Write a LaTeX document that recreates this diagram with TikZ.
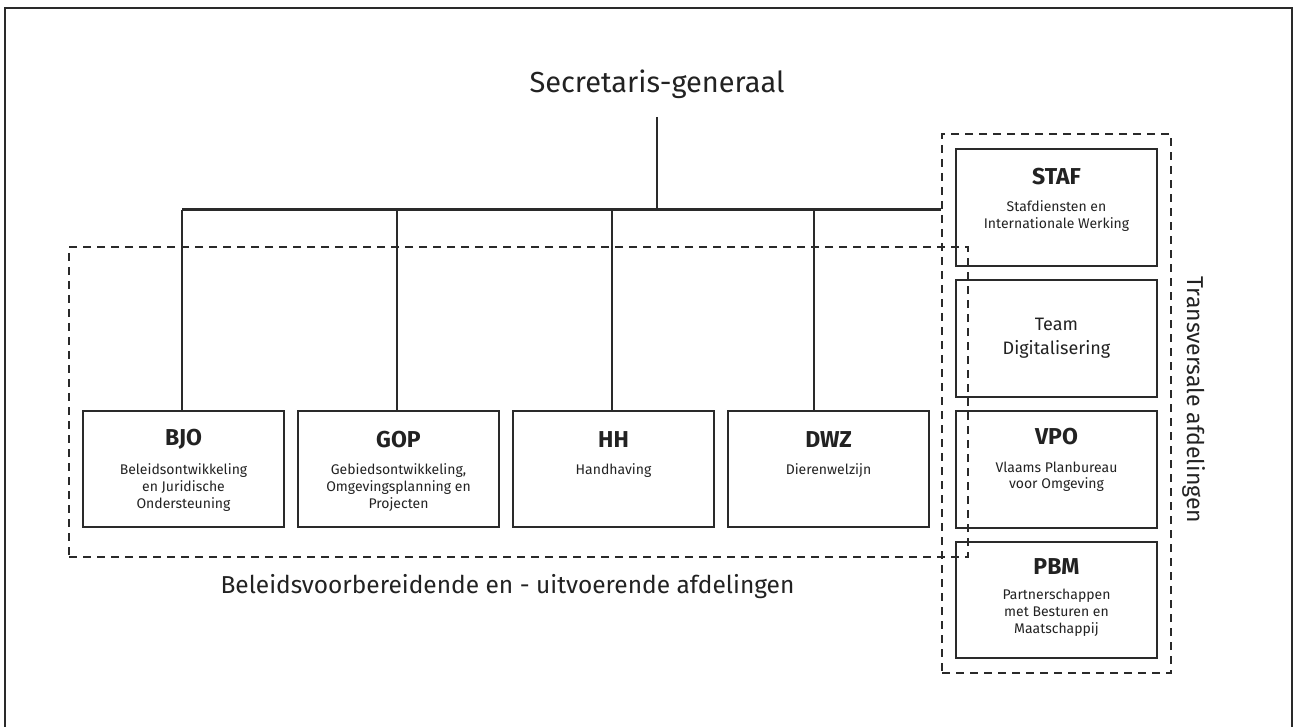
\documentclass[tikz,border=0pt]{standalone}
\usepackage{fontspec}
\setmainfont{Fira Sans}
\definecolor{ink}{HTML}{222222}
\definecolor{linec}{HTML}{2A2A2A}
\begin{document}
\begin{tikzpicture}[x=1pt,y=-1pt,
  box/.style={draw=linec, line width=1.4pt, minimum width=201pt, minimum height=116pt, inner sep=0pt},
  grp/.style={draw=linec, line width=1.4pt, dash pattern=on 8pt off 6pt, inner sep=0pt},
  abbr/.style={font=\fontsize{23}{26}\selectfont\bfseries, text=ink, inner sep=0pt},
  sub/.style={font=\fontsize{14}{16.8}\selectfont, align=center, text=ink, anchor=north, inner sep=0pt},
  big/.style={text=ink, inner sep=0pt},
  conn/.style={line width=1.3pt, draw=linec}]
\useasboundingbox (0,0) rectangle (1293,727);
\draw[line width=2pt, draw=linec] (5,730) -- (5,8) -- (1292,8) -- (1292,730);

% groups
\node[grp, minimum width=899pt, minimum height=310pt] (grpL) at (518.5,402) {};
\node[grp, minimum width=229pt, minimum height=539pt] (grpT) at (1056.5,403.5) {};

% title
\node[big, anchor=base, font=\fontsize{29}{32}\selectfont] (sg) at (657,93) {Secretaris-generaal};

% boxes
\node[box] (bjo) at (183.5,469) {};
\node[box] (gop) at (398.5,469) {};
\node[box] (hh)  at (613.5,469) {};
\node[box] (dwz) at (828.5,469) {};
\node[box, minimum height=117pt] (staf) at (1056.5,207.5) {};
\node[box, minimum height=117pt] (team) at (1056.5,338.5) {};
\node[box, minimum height=117pt] (vpo)  at (1056.5,469.5) {};
\node[box, minimum height=116pt] (pbm)  at (1056.5,600) {};

% connectors
\coordinate (sgb) at (657,117);
\coordinate (barL) at (182,210);
\coordinate (d2) at (397,210);
\coordinate (d3) at (612,210);
\coordinate (d4) at (814,210);
\draw[conn] (sgb) -- (sgb |- barL);
\draw[line width=3pt, draw=linec] (barL) -- (barL -| grpT.west);
\draw[conn] (barL) -- (barL |- bjo.north);
\draw[conn] (d2) -- (d2 |- gop.north);
\draw[conn] (d3) -- (d3 |- hh.north);
\draw[conn] (d4) -- (d4 |- dwz.north);

% box texts
\node[abbr] (bjoT) at ([yshift=-29pt]bjo.north) {BJO};
\node[sub] (bjoS) at ([yshift=-53pt]bjo.north) {Beleidsontwikkeling\\en Juridische\\Ondersteuning};
\node[abbr] (gopT) at ([yshift=-29pt]gop.north) {GOP};
\node[sub] (gopS) at ([yshift=-53pt]gop.north) {Gebiedsontwikkeling,\\Omgevingsplanning en\\Projecten};
\node[abbr] (hhT) at ([yshift=-29pt]hh.north) {HH};
\node[sub] (hhS) at ([yshift=-53pt]hh.north) {Handhaving};
\node[abbr] (dwzT) at ([yshift=-29pt]dwz.north) {DWZ};
\node[sub] (dwzS) at ([yshift=-53pt]dwz.north) {Dierenwelzijn};

\node[abbr] (stafT) at ([yshift=-28pt]staf.north) {STAF};
\node[sub] (stafS) at ([yshift=-52pt]staf.north) {Stafdiensten en\\Internationale Werking};
\node[big, align=center, font=\fontsize{18}{24}\selectfont] (teamT) at (team.center) {Team\\Digitalisering};
\node[abbr] (vpoT) at ([yshift=-26pt]vpo.north) {VPO};
\node[sub] (vpoS) at ([yshift=-51pt]vpo.north) {Vlaams Planbureau\\voor Omgeving};
\node[abbr] (pbmT) at ([yshift=-25pt]pbm.north) {PBM};
\node[sub] (pbmS) at ([yshift=-48pt]pbm.north) {Partnerschappen\\met Besturen en\\Maatschappij};

% group labels
\node[big, anchor=base, font=\fontsize{24.5}{28}\selectfont] (lblL) at (507.5,593) {Beleidsvoorbereidende en - uitvoerende afdelingen};
\node[big, anchor=base, rotate=-90, font=\fontsize{23}{28}\selectfont] (lblT) at (1187,400) {Transversale afdelingen};
\end{tikzpicture}
\end{document}
